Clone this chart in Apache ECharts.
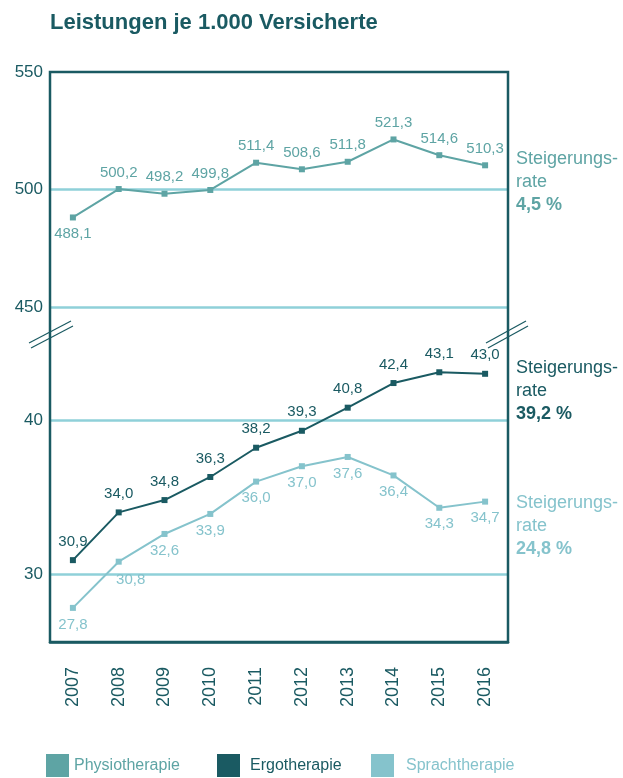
<!DOCTYPE html>
<html>
<head>
<meta charset="utf-8">
<script src="https://cdn.jsdelivr.net/npm/echarts@6/dist/echarts.min.js"></script>
<style>
  html, body { margin: 0; padding: 0; background: #fff; }
  #main { width: 623px; height: 778px; }
</style>
</head>
<body>
<div id="main"></div>
<script>
const years = ['2007', '2008', '2009', '2010', '2011', '2012', '2013', '2014', '2015', '2016'];
const physio = [488.1, 500.2, 498.2, 499.8, 511.4, 508.6, 511.8, 521.3, 514.6, 510.3];
const ergo = [30.9, 34.0, 34.8, 36.3, 38.2, 39.3, 40.8, 42.4, 43.1, 43.0];
const sprach = [27.8, 30.8, 32.6, 33.9, 36.0, 37.0, 37.6, 36.4, 34.3, 34.7];
const topTicks = [450, 500, 550];
const bottomTicks = [30, 40];
const rates = ['4,5 %', '39,2 %', '24,8 %'];

const DARK = '#1a5a62';
const PHYSIO = '#5ea4a4';
const SPRACH = '#85c3cc';
const GRIDLINE = '#8fd0d9';
const FONT = 'Liberation Sans, Arial, sans-serif';

const fmt = v => v.toFixed(1).replace('.', ',');

let myChart = echarts.init(document.getElementById('main'));

function rateBlock(x, y, color, rate) {
    return {
        type: 'group',
        left: x,
        top: y,
        children: [
            { type: 'text', x: 0, y: 0, style: { text: 'Steigerungs-', fill: color, font: '18px ' + FONT } },
            { type: 'text', x: 0, y: 23, style: { text: 'rate', fill: color, font: '18px ' + FONT } },
            { type: 'text', x: 0, y: 46, style: { text: rate, fill: color, font: 'bold 18px ' + FONT } }
        ]
    };
}

function breakMark(x1, y1, x2, y2) {
    return [
        { type: 'line', shape: { x1: x1, y1: y1, x2: x2, y2: y2 }, style: { stroke: DARK, lineWidth: 1.2 }, z: 10 },
        { type: 'line', shape: { x1: x1 + 2, y1: y1 + 5, x2: x2 + 2, y2: y2 + 5 }, style: { stroke: DARK, lineWidth: 1.2 }, z: 10 }
    ];
}

option = {
    animation: false,
    textStyle: { fontFamily: FONT },
    title: {
        text: 'Leistungen je 1.000 Versicherte',
        left: 45,
        top: 7,
        textStyle: { fontSize: 22, fontWeight: 'bold', color: DARK, fontFamily: FONT }
    },
    legend: [
        {
            data: ['Physiotherapie'], left: 46, top: 754, icon: 'rect', padding: 0,
            itemWidth: 23, itemHeight: 23, itemGap: 6,
            textStyle: { color: PHYSIO, fontSize: 16 }
        },
        {
            data: ['Ergotherapie'], left: 217, top: 754, icon: 'rect', padding: 0,
            itemWidth: 23, itemHeight: 23,
            textStyle: { color: DARK, fontSize: 16, padding: [0, 0, 0, 5] }
        },
        {
            data: ['Sprachtherapie'], left: 371, top: 754, icon: 'rect', padding: 0,
            itemWidth: 23, itemHeight: 23,
            textStyle: { color: SPRACH, fontSize: 16, padding: [0, 0, 0, 7] }
        }
    ],
    grid: [
        { left: 50, top: 72, width: 458, height: 235 },
        { left: 50, top: 343, width: 458, height: 308 },
        { left: 50, top: 72, width: 458, height: 570, show: true, borderColor: DARK, borderWidth: 2.5, backgroundColor: 'transparent', z: 3 }
    ],
    xAxis: [
        { gridIndex: 0, type: 'category', data: years, show: false },
        { gridIndex: 1, type: 'category', data: years, show: false },
        {
            gridIndex: 2,
            type: 'category',
            data: years,
            z: 3,
            axisLine: { lineStyle: { color: DARK, width: 2.5 } },
            axisTick: { inside: true, length: 12, lineStyle: { color: DARK, width: 2.5 } },
            axisLabel: { rotate: 90, margin: 25, color: DARK, fontSize: 18, fontFamily: FONT }
        }
    ],
    yAxis: [
        {
            gridIndex: 0,
            type: 'value',
            min: 450,
            max: 550,
            interval: 50,
            axisLine: { show: false },
            axisTick: { show: false },
            axisLabel: { color: DARK, fontSize: 17, margin: 7, fontFamily: FONT, padding: [3, 0, 0, 0] },
            splitLine: { showMaxLine: false, lineStyle: { color: GRIDLINE, width: 2.5 } }
        },
        {
            gridIndex: 1,
            type: 'value',
            min: 25,
            max: 45,
            interval: 5,
            axisLine: { show: false },
            axisTick: { show: false },
            axisLabel: {
                color: DARK, fontSize: 17, margin: 7, fontFamily: FONT, padding: [3, 0, 0, 0],
                formatter: v => bottomTicks.includes(v) ? String(v) : ''
            },
            splitLine: { show: false }
        },
        { gridIndex: 2, type: 'value', show: false, min: 0, max: 1 }
    ],
    graphic: [
        rateBlock(516, 150, PHYSIO, rates[0]),
        rateBlock(516, 359, DARK, rates[1]),
        rateBlock(516, 494, SPRACH, rates[2]),
        ...breakMark(29, 343, 71, 321),
        ...breakMark(486, 343, 526, 321)
    ],
    series: [
        {
            name: 'Physiotherapie',
            type: 'line',
            xAxisIndex: 0,
            yAxisIndex: 0,
            symbol: 'rect',
            symbolSize: 6,
            color: PHYSIO,
            lineStyle: { width: 2 },
            data: physio.map((v, i) => i === 0 ? { value: v, label: { position: 'bottom' } } : v),
            label: {
                show: true, position: 'top', distance: 6, color: PHYSIO, fontSize: 15,
                formatter: p => fmt(p.value)
            }
        },
        {
            name: 'Ergotherapie',
            type: 'line',
            xAxisIndex: 1,
            yAxisIndex: 1,
            symbol: 'rect',
            symbolSize: 6,
            color: DARK,
            lineStyle: { width: 2 },
            data: ergo,
            label: {
                show: true, position: 'top', distance: 8, color: DARK, fontSize: 15,
                formatter: p => fmt(p.value)
            },
            markLine: {
                silent: true,
                symbol: 'none',
                z: 1,
                label: { show: false },
                lineStyle: { color: GRIDLINE, width: 2.5, type: 'solid' },
                data: bottomTicks.map(t => ({ yAxis: t }))
            }
        },
        {
            name: 'Sprachtherapie',
            type: 'line',
            xAxisIndex: 1,
            yAxisIndex: 1,
            symbol: 'rect',
            symbolSize: 6,
            color: SPRACH,
            lineStyle: { width: 2 },
            data: sprach.map((v, i) => i === 1 ? { value: v, label: { offset: [12, 2] } } : v),
            label: {
                show: true, position: 'bottom', distance: 6, color: SPRACH, fontSize: 15,
                formatter: p => fmt(p.value)
            }
        }
    ]
};
myChart.setOption(option);
</script>
</body>
</html>
